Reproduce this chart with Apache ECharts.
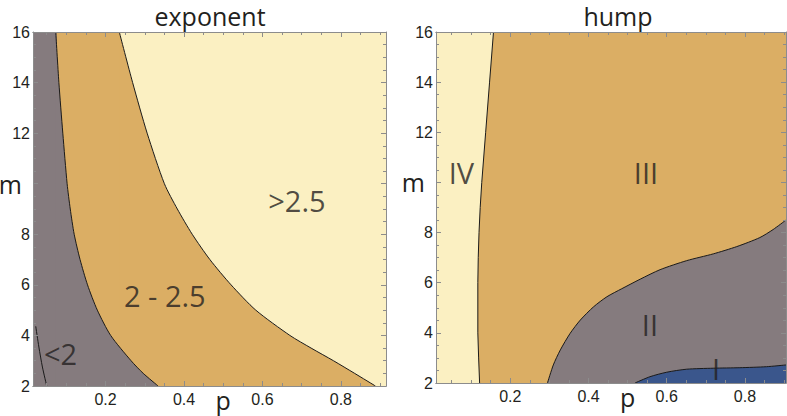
<!DOCTYPE html>
<html>
<head>
<meta charset="utf-8">
<script src="https://cdn.jsdelivr.net/npm/echarts@6.0.0/dist/echarts.min.js"></script>
<style>
  html, body { margin: 0; padding: 0; background: #fff; }
  #chart { width: 787px; height: 416px; }
</style>
</head>
<body>
<div id="chart"></div>
<script>
// tick values
const pMajor = [0.2, 0.4, 0.6, 0.8]
const pMinor = [0.05, 0.1, 0.15, 0.25, 0.3, 0.35, 0.45, 0.5, 0.55, 0.65, 0.7, 0.75, 0.85, 0.9]
const pNameAt = 0.5   // "p" sits between 0.4 and 0.6
const mNameAt = 10    // "m" replaces the 10 label
const expRange = [0.015, 0.915]
const humpRange = [0.01, 0.905]

// exponent panel: boundaries [p, m]
const expEdge2 = [[0.073, 16], [0.081, 14], [0.091, 12], [0.102, 10], [0.110, 9], [0.120, 8], [0.135, 7], [0.154, 6], [0.179, 5], [0.213, 4], [0.265, 3], [0.296, 2.5], [0.334, 2]]
const expEdge25 = [[0.235, 16], [0.269, 14], [0.306, 12], [0.350, 10], [0.383, 9], [0.421, 8], [0.466, 7], [0.520, 6], [0.583, 5], [0.670, 4], [0.724, 3.5], [0.781, 3], [0.835, 2.5], [0.888, 2]]
const expInner = [[0.022, 4.36], [0.030, 3.54], [0.039, 2.75], [0.05, 2]]
const expNames = ['>2.5', '2 - 2.5', '<2']
const expNamePos = [[0.688, 9.35], [0.351, 5.59], [0.085, 3.29]]

// hump panel: boundaries [p, m]
const humpEdgeIV = [[0.157, 16], [0.147, 14], [0.137, 12], [0.127, 10], [0.123, 9], [0.120, 8], [0.118, 7], [0.117, 6], [0.117, 4], [0.119, 3], [0.1215, 2]]
const humpEdgeII = [[0.295, 2], [0.310, 2.72], [0.328, 3.32], [0.353, 3.98], [0.379, 4.51], [0.413, 5.04], [0.447, 5.44], [0.485, 5.76], [0.532, 6.14], [0.583, 6.52], [0.651, 6.88], [0.719, 7.15], [0.779, 7.44], [0.838, 7.80], [0.872, 8.12], [0.905, 8.5]]
const humpEdgeI = [[0.519, 2], [0.557, 2.25], [0.600, 2.43], [0.651, 2.55], [0.719, 2.59], [0.787, 2.61], [0.855, 2.65], [0.905, 2.72]]
const humpNames = ['IV', 'III', 'II', 'I']
const humpNamePos = [[0.075, 10.38], [0.547, 10.38], [0.557, 4.35], [0.726, 2.56]]

const cYellow = '#FBF0C2'
const cTan = '#DBAE64'
const cGray = '#857B7E'
const cBlue = '#3A568C'
const frameColor = '#8c8c8c'
const ink = '#231F20'
const sans = '"Open Sans", "Noto Sans", sans-serif'
const tickFont = '"Liberation Sans", Arial, sans-serif'
const sm = 0.25        // curve smoothing
const overlap = 0.002  // strip runs a hair under the curved fill so no seam shows

function makeX (gridIndex, range, position, ticks, len, withLabels) {
  let axis = {
    type: 'value', gridIndex, position, min: range[0], max: range[1], z: 5,
    splitLine: { show: false },
    axisLine: { lineStyle: { color: frameColor, width: 1 } },
    axisTick: { inside: true, length: len, customValues: ticks, lineStyle: { color: frameColor } },
    axisLabel: { show: false }
  }
  if (withLabels) {
    axis.axisLabel = {
      show: true,
      customValues: pMajor.concat([pNameAt]).sort(),
      margin: 5,
      color: ink,
      fontSize: 16,
      fontFamily: tickFont,
      formatter: (v) => v === pNameAt ? '{n|p}' : String(v),
      rich: { n: { fontSize: 25, fontFamily: sans, color: ink, lineHeight: 18 } }
    }
  }
  return axis
}

function makeY (gridIndex, position, withLabels) {
  return {
    type: 'value', gridIndex, position, min: 2, max: 16, interval: 2, z: 5,
    splitLine: { show: false },
    axisLine: { lineStyle: { color: frameColor, width: 1 } },
    axisTick: { inside: true, length: 5, lineStyle: { color: frameColor } },
    minorTick: { show: true, splitNumber: 4, length: 3, lineStyle: { color: frameColor } },
    axisLabel: withLabels ? {
      margin: 3,
      color: ink,
      fontSize: 16,
      fontFamily: tickFont,
      formatter: (v) => v === mNameAt ? '{n|m}' : String(v),
      rich: { n: { fontSize: 25, fontFamily: sans, color: ink, padding: [0, 8, 0, 0] } }
    } : { show: false }
  }
}

// filled region below a boundary down to m = 2
function areaSeries (xi, yi, data, color, smooth) {
  return {
    type: 'line', xAxisIndex: xi, yAxisIndex: yi, data, symbol: 'none', smooth,
    lineStyle: { width: 0 }, areaStyle: { color, opacity: 1, origin: 'start' },
    silent: true, z: 2
  }
}

// full-height strip from the left edge to where a boundary meets the top
function stripSeries (xi, yi, pMin, edge, color) {
  return areaSeries(xi, yi, [[pMin, 16], [edge[0][0] + overlap, 16]], color, false)
}

function edgeSeries (xi, yi, data, smooth) {
  return {
    type: 'line', xAxisIndex: xi, yAxisIndex: yi, data, symbol: 'none', smooth,
    lineStyle: { color: '#1a1a1a', width: 1 }, silent: true, z: 3
  }
}

function nameSeries (xi, yi, names, pos) {
  return {
    type: 'scatter', xAxisIndex: xi, yAxisIndex: yi, symbolSize: 1, silent: true, z: 4,
    itemStyle: { color: 'rgba(0,0,0,0)' },
    label: { show: true, position: 'inside', formatter: '{b}', fontSize: 29, fontFamily: sans, color: ink },
    data: names.map((n, i) => ({ name: n, value: pos[i] }))
  }
}

const chart = echarts.init(document.getElementById('chart'), null, { renderer: 'svg' })

chart.setOption({
  animation: false,
  backgroundColor: '#fff',
  graphic: [
    { type: 'text', x: 210, y: 16, style: { text: 'exponent', font: '25px ' + sans, fill: ink, align: 'center', verticalAlign: 'middle', textAlign: 'center', textVerticalAlign: 'middle' } },
    { type: 'text', x: 618, y: 16, style: { text: 'hump', font: '25px ' + sans, fill: ink, align: 'center', verticalAlign: 'middle', textAlign: 'center', textVerticalAlign: 'middle' } }
  ],
  grid: [
    { left: 33, top: 32, width: 353, height: 354, show: true, backgroundColor: cYellow, borderWidth: 0, outerBoundsMode: 'none' },
    { left: 33, top: 32, width: 353, height: 354, outerBoundsMode: 'none' },
    { left: 436, top: 32, width: 350, height: 351, show: true, backgroundColor: cTan, borderWidth: 0, outerBoundsMode: 'none' },
    { left: 436, top: 32, width: 350, height: 351, outerBoundsMode: 'none' }
  ],
  xAxis: [
    makeX(0, expRange, 'bottom', pMajor, 5, true),
    makeX(0, expRange, 'top', pMajor, 5, false),
    makeX(1, expRange, 'bottom', pMinor, 3, false),
    makeX(1, expRange, 'top', pMinor, 3, false),
    makeX(2, humpRange, 'bottom', pMajor, 5, true),
    makeX(2, humpRange, 'top', pMajor, 5, false),
    makeX(3, humpRange, 'bottom', pMinor, 3, false),
    makeX(3, humpRange, 'top', pMinor, 3, false)
  ],
  yAxis: [
    makeY(0, 'left', true),
    makeY(0, 'right', false),
    { type: 'value', gridIndex: 1, min: 2, max: 16, show: false },
    makeY(2, 'left', true),
    makeY(2, 'right', false),
    { type: 'value', gridIndex: 3, min: 2, max: 16, show: false }
  ],
  series: [
    // exponent: tan (2 - 2.5) then gray (<2) on top
    stripSeries(0, 0, expRange[0], expEdge25, cTan),
    areaSeries(0, 0, expEdge25, cTan, sm),
    stripSeries(0, 0, expRange[0], expEdge2, cGray),
    areaSeries(0, 0, expEdge2, cGray, sm),
    edgeSeries(0, 0, expEdge25, sm),
    edgeSeries(0, 0, expEdge2, sm),
    edgeSeries(0, 0, expInner, sm),
    nameSeries(0, 0, expNames, expNamePos),
    // hump: IV, II, I over the tan III background
    areaSeries(4, 3, [[humpRange[0], 16]].concat(humpEdgeIV), cYellow, false),
    areaSeries(4, 3, humpEdgeII, cGray, sm),
    areaSeries(4, 3, humpEdgeI, cBlue, sm),
    edgeSeries(4, 3, humpEdgeIV, false),
    edgeSeries(4, 3, humpEdgeII, sm),
    edgeSeries(4, 3, humpEdgeI, sm),
    nameSeries(4, 3, humpNames, humpNamePos)
  ]
})
</script>
</body>
</html>
